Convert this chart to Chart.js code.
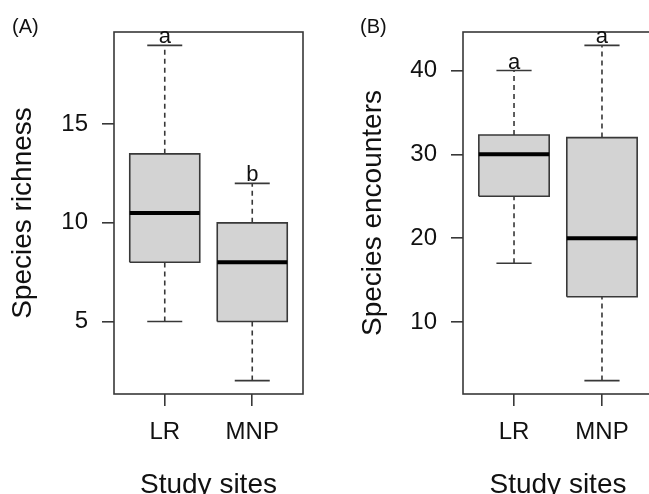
<!DOCTYPE html>
<html>
<head>
<meta charset="utf-8">
<script src="https://cdn.jsdelivr.net/npm/chart.js@4.4.1/dist/chart.umd.min.js"></script>
<style>
  html, body { margin: 0; padding: 0; background: #fff; }
  body { width: 649px; height: 494px; overflow: hidden; position: relative; }
  canvas { position: absolute; top: 0; }
  #richChart { left: 0; }
  #encChart { left: 324px; }
</style>
</head>
<body>
<canvas id="richChart" width="324" height="520"></canvas>
<canvas id="encChart" width="360" height="520"></canvas>
<script>
var sites = ['LR', 'MNP'];

// (A) species richness: whisker ends, quartiles, median
var richLow = [5, 2];
var richQ1 = [8, 5];
var richMedian = [10.5, 8];
var richQ3 = [13.5, 10];
var richHigh = [19, 12];
var richLetters = ['a', 'b'];
var richTicks = [5, 10, 15];

// (B) species encounters
var encLow = [17, 3];
var encQ1 = [25, 13];
var encMedian = [30, 20];
var encQ3 = [32.3, 32];
var encHigh = [40, 43];
var encLetters = ['a', 'a'];
var encTicks = [10, 20, 30, 40];

(function () {
  var FONT = '"Liberation Sans", Arial, Helvetica, sans-serif';
  var LINE = '#383838';
  var FILL = '#d3d3d3';
  var TEXT = '#111';
  var CANVAS_H = 520;
  var PLOT_BOTTOM = 394;

  function boxDatasets(low, q1, med, q3, high) {
    var sets = [];
    var half = 0.4, cap = 0.2;
    sites.forEach(function (_, i) {
      var x = i + 1;
      sets.push({
        data: [
          { x: x - half, y: q1[i] }, { x: x + half, y: q1[i] },
          { x: x + half, y: q3[i] }, { x: x - half, y: q3[i] },
          { x: x - half, y: q1[i] }
        ],
        borderColor: LINE, borderWidth: 1.6, backgroundColor: FILL,
        fill: 'shape', order: 2
      });
      sets.push({
        data: [{ x: x, y: q3[i] }, { x: x, y: high[i] }],
        borderColor: LINE, borderWidth: 1.6, borderDash: [5, 4], order: 1
      });
      sets.push({
        data: [{ x: x, y: low[i] }, { x: x, y: q1[i] }],
        borderColor: LINE, borderWidth: 1.6, borderDash: [5, 4], order: 1
      });
      sets.push({
        data: [{ x: x - cap, y: high[i] }, { x: x + cap, y: high[i] }],
        borderColor: LINE, borderWidth: 1.6, order: 1
      });
      sets.push({
        data: [{ x: x - cap, y: low[i] }, { x: x + cap, y: low[i] }],
        borderColor: LINE, borderWidth: 1.6, order: 1
      });
      sets.push({
        data: [{ x: x - half, y: med[i] }, { x: x + half, y: med[i] }],
        borderColor: '#000', borderWidth: 4, order: 0
      });
    });
    sets.forEach(function (s) {
      s.pointRadius = 0;
      s.pointHoverRadius = 0;
      s.tension = 0;
      if (!s.fill) s.fill = false;
    });
    return sets;
  }

  function decorPlugin(letters, high, panel, panelX) {
    return {
      id: 'decor',
      afterDatasetsDraw: function (chart) {
        var ctx = chart.ctx, a = chart.chartArea;
        var xs = chart.scales.x, ys = chart.scales.y;
        ctx.save();
        ctx.strokeStyle = LINE;
        ctx.lineWidth = 1.6;
        ctx.strokeRect(a.left, a.top, a.right - a.left, a.bottom - a.top);
        ctx.fillStyle = TEXT;
        ctx.font = '22px ' + FONT;
        ctx.textAlign = 'center';
        ctx.textBaseline = 'alphabetic';
        letters.forEach(function (t, i) {
          ctx.fillText(t, xs.getPixelForValue(i + 1), ys.getPixelForValue(high[i]) - 2);
        });
        ctx.font = '20px ' + FONT;
        ctx.textAlign = 'left';
        ctx.fillText(panel, panelX, 33);
        ctx.restore();
      }
    };
  }

  function makePanel(id, opt) {
    var lo = Math.min.apply(null, opt.low);
    var hi = Math.max.apply(null, opt.high);
    var pad = (hi - lo) * 0.04;
    var canvas = document.getElementById(id);
    new Chart(canvas, {
      type: 'line',
      data: { datasets: boxDatasets(opt.low, opt.q1, opt.med, opt.q3, opt.high) },
      plugins: [decorPlugin(opt.letters, opt.high, opt.panel, opt.panelX)],
      options: {
        responsive: false,
        animation: false,
        events: [],
        layout: { padding: { left: 0, top: 32, right: opt.padRight, bottom: 0 } },
        plugins: { legend: { display: false }, tooltip: { enabled: false } },
        scales: {
          x: {
            type: 'linear',
            min: 0.42,
            max: 2.58,
            afterBuildTicks: function (axis) {
              axis.ticks = sites.map(function (_, i) { return { value: i + 1 }; });
            },
            afterFit: function (s) { s.height = CANVAS_H - PLOT_BOTTOM; },
            border: { display: false },
            grid: { drawOnChartArea: false, drawTicks: true, tickLength: 12, color: LINE, lineWidth: 1.6 },
            ticks: {
              padding: 12,
              maxRotation: 0,
              autoSkip: false,
              color: TEXT,
              font: { family: FONT, size: 24 },
              callback: function (v, i) { return sites[i]; }
            },
            title: {
              display: true,
              text: 'Study sites',
              color: TEXT,
              font: { family: FONT, size: 28 },
              padding: { top: 0, bottom: 18 }
            }
          },
          y: {
            type: 'linear',
            min: lo - pad,
            max: hi + pad,
            afterBuildTicks: function (axis) {
              axis.ticks = opt.ticks.map(function (v) { return { value: v }; });
            },
            afterFit: function (s) { s.width = opt.plotLeft; },
            border: { display: false },
            grid: { drawOnChartArea: false, drawTicks: true, tickLength: 12, color: LINE, lineWidth: 1.6 },
            ticks: {
              padding: 14,
              color: TEXT,
              font: { family: FONT, size: 24 }
            },
            title: {
              display: true,
              text: opt.title,
              color: TEXT,
              font: { family: FONT, size: 28 },
              padding: { top: opt.titlePad, bottom: 0 }
            }
          }
        }
      }
    });
  }

  makePanel('richChart', {
    low: richLow, q1: richQ1, med: richMedian, q3: richQ3, high: richHigh,
    letters: richLetters, ticks: richTicks, title: 'Species richness',
    panel: '(A)', panelX: 12, plotLeft: 114, padRight: 21, titlePad: 6
  });

  makePanel('encChart', {
    low: encLow, q1: encQ1, med: encMedian, q3: encQ3, high: encHigh,
    letters: encLetters, ticks: encTicks, title: 'Species encounters',
    panel: '(B)', panelX: 36, plotLeft: 139, padRight: 31, titlePad: 32
  });
})();
</script>
</body>
</html>
